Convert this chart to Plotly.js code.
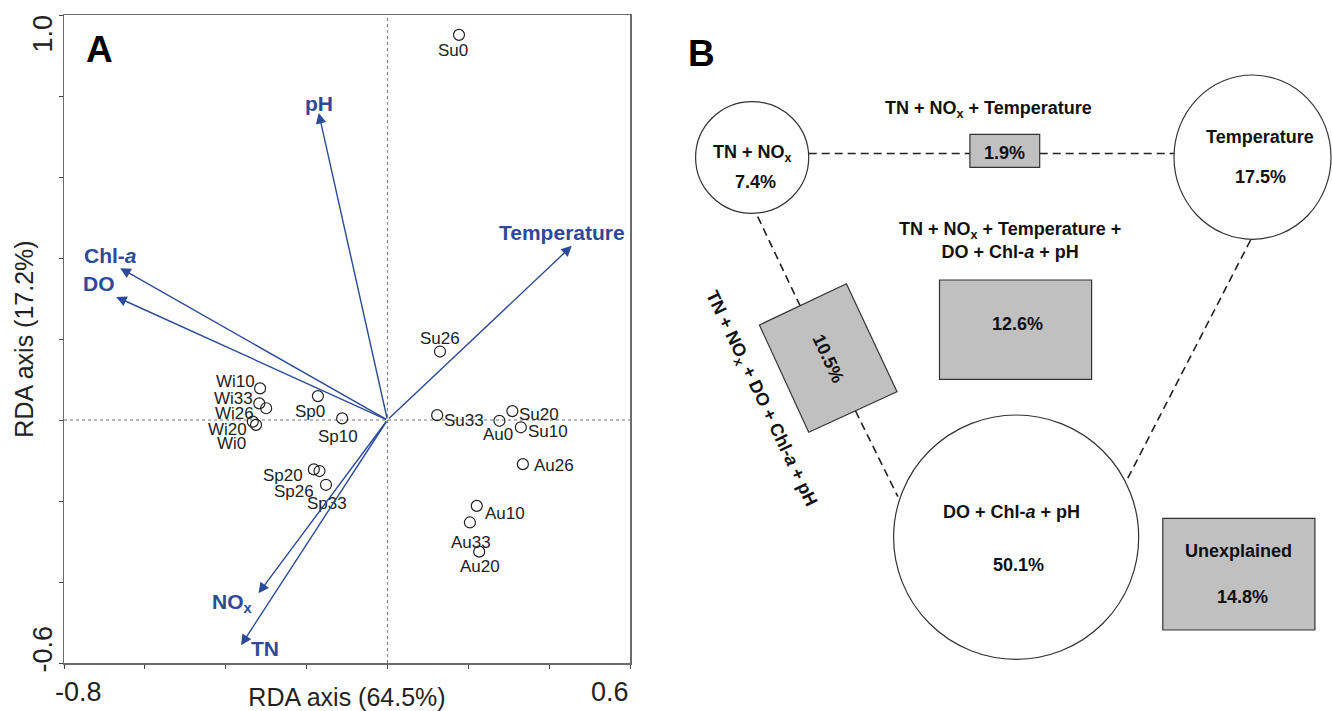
<!DOCTYPE html>
<html>
<head>
<meta charset="utf-8">
<script src="https://cdn.plot.ly/plotly-3.0.1.min.js"></script>
<style>html,body{margin:0;padding:0;background:#fff;}#chart{width:1332px;height:711px;}</style>
</head>
<body>
<div id="chart"></div>
<script>
// ---------- Panel A data (RDA biplot) ----------
const sampleNames = ['Su0','Su26','Wi10','Wi33','Wi26','Wi20','Wi0','Sp0','Sp10','Sp20','Sp26','Sp33','Su33','Au0','Su20','Su10','Au26','Au10','Au33','Au20'];
const sampleAxis1 = [0.177, 0.130, -0.315, -0.317, -0.300, -0.333, -0.325, -0.172, -0.112, -0.182, -0.168, -0.152, 0.123, 0.277, 0.309, 0.330, 0.335, 0.221, 0.204, 0.227];
const sampleAxis2 = [0.951, 0.169, 0.078, 0.041, 0.029, -0.004, -0.012, 0.059, 0.004, -0.122, -0.126, -0.160, 0.012, -0.002, 0.022, -0.018, -0.109, -0.212, -0.253, -0.325];

const envNames = ['pH', 'Temperature', 'Chl-<i>a</i>', 'DO', 'NO<sub>x</sub>', 'TN'];
const envAxis1 = [-0.170, 0.456, -0.661, -0.671, -0.319, -0.362];
const envAxis2 = [0.758, 0.430, 0.375, 0.304, -0.428, -0.556];

const xTickLabels = ['-0.8', '0.6'];
const yTickLabels = ['1.0', '-0.6'];
const xTitle = 'RDA axis (64.5%)';
const yTitle = 'RDA axis (17.2%)';

// ---------- Panel B data (variation partitioning) ----------
const partNames = ['TN + NO<sub>x</sub>', 'Temperature', 'DO + Chl-<i>a</i> + pH',
  'TN + NO<sub>x</sub> + Temperature', 'TN + NO<sub>x</sub> + DO + Chl-<i>a</i> + pH',
  'TN + NO<sub>x</sub> + Temperature +<br>DO + Chl-<i>a</i> + pH', 'Unexplained'];
const partValues = [7.4, 17.5, 50.1, 1.9, 10.5, 12.6, 14.8];

// ---------- styling / placement (not data) ----------
const FONT = 'Arial, "Liberation Sans", Helvetica, sans-serif';
const BLUE = '#2B4A9A';
// pixel offsets of sample labels from their points
const sampleLabelDx = [-5.5, 0, -24.4, -25.3, -32, -25.4, -24.3, -7.7, -4, -30.7, -26, 0.7, 26.9, -1.3, 26.5, 27.1, 31.5, 28, 0.7, 0.7];
const sampleLabelDy = [15.7, -13.4, -6.6, -5, 5, 7.6, 18.3, 15.7, 17.7, 5.7, 20.7, 18.3, 5, 13.3, 3.3, 4.4, 1.7, 8, 20, 15];
// pixel offsets of vector labels from arrow tips
const envLabelDx = [0, -10, -10, -17, -26, 23.5];
const envLabelDy = [-10, -13, -13, -13, 10, 3];

// Panel B layout geometry in panel pixel space (x2: 630..1332, y2: 15..663)
const circleBoxes = [[695.6, 101.7, 808.7, 213.3], [1174, 75, 1331, 239.3], [893.6, 415, 1138.7, 659.3]];
const rectBoxes = {3: [969.9, 134.3, 1039.7, 167.3], 5: [939.5, 280, 1091.6, 379.3], 6: [1162.8, 518.3, 1314.9, 630]};
const tiltedBox = [[759.4, 325], [846.4, 283.7], [897, 391.7], [808.7, 432.3]];
const dashLines = [[808.7, 153.5, 969.9, 153.5], [1039.7, 153.5, 1174, 153.5], [757.7, 216.7, 800, 305.5], [855.5, 411, 897.9, 496.7], [1250.6, 240, 1126, 481.7]];
const nameAnchors = [[752, 153.3], [1260, 136.7], [1011.4, 511.7], [988.7, 109.3], [760.5, 398.3], [1009.5, 240.8], [1238.6, 551]];
const valueAnchors = [[755, 181.7], [1260, 176.7], [1018, 565], [1004, 152.7], [828, 358], [1017.9, 324.3], [1242, 596.7]];
const nameAngles = [0, 0, 0, 0, 64.6, 0, 0];
const valueAngles = [0, 0, 0, 0, 65, 0, 0];

const traces = [
  {
    type: 'scatter', mode: 'markers', x: sampleAxis1, y: sampleAxis2, text: sampleNames,
    marker: {symbol: 'circle-open', size: 11, color: '#222', line: {width: 1.2, color: '#222'}},
    hoverinfo: 'text', cliponaxis: false
  },
  {type: 'scatter', x: [], y: [], xaxis: 'x2', yaxis: 'y2', hoverinfo: 'skip'}
];

const annotations = [];
const shapes = [];

// zero lines
shapes.push({type: 'line', xref: 'x', yref: 'y domain', x0: 0, x1: 0, y0: 0, y1: 1, line: {color: '#777', width: 1, dash: 'dot'}, layer: 'below'});
shapes.push({type: 'line', xref: 'x domain', yref: 'y', x0: 0, x1: 1, y0: 0, y1: 0, line: {color: '#777', width: 1, dash: 'dot'}, layer: 'below'});

// sample labels
sampleNames.forEach((n, i) => {
  annotations.push({x: sampleAxis1[i], y: sampleAxis2[i], xref: 'x', yref: 'y', text: n, showarrow: false,
    xshift: sampleLabelDx[i], yshift: -sampleLabelDy[i], xanchor: 'center', yanchor: 'middle',
    font: {family: FONT, size: 17, color: '#222'}});
});

// environmental vectors
envNames.forEach((n, i) => {
  annotations.push({x: envAxis1[i], y: envAxis2[i], xref: 'x', yref: 'y', ax: 0, ay: 0, axref: 'x', ayref: 'y',
    text: '', showarrow: true, arrowhead: 2, arrowsize: 1.5, arrowwidth: 1.4, arrowcolor: BLUE, standoff: 0, startstandoff: 0});
  annotations.push({x: envAxis1[i], y: envAxis2[i], xref: 'x', yref: 'y', text: '<b>' + n + '</b>', showarrow: false,
    xshift: envLabelDx[i], yshift: -envLabelDy[i], xanchor: 'center', yanchor: 'middle',
    font: {family: FONT, size: 21, color: BLUE}});
});

// tick labels
const tickFont = {family: FONT, size: 27, color: '#222'};
annotations.push({x: -0.8, y: 0, xref: 'x', yref: 'paper', text: xTickLabels[0], showarrow: false, xshift: 14, yshift: -29, xanchor: 'center', yanchor: 'middle', font: tickFont});
annotations.push({x: 0.6, y: 0, xref: 'x', yref: 'paper', text: xTickLabels[1], showarrow: false, xshift: -20, yshift: -29, xanchor: 'center', yanchor: 'middle', font: tickFont});
annotations.push({x: 0, y: 1.0, xref: 'paper', yref: 'y', text: yTickLabels[0], showarrow: false, xshift: -21.5, yshift: -19, textangle: -90, xanchor: 'center', yanchor: 'middle', font: tickFont});
annotations.push({x: 0, y: -0.6, xref: 'paper', yref: 'y', text: yTickLabels[1], showarrow: false, xshift: -21.5, yshift: 14, textangle: -90, xanchor: 'center', yanchor: 'middle', font: tickFont});

// panel letters
annotations.push({x: 0.0636, y: 0.946, xref: 'x domain', yref: 'y domain', text: '<b>A</b>', showarrow: false, xanchor: 'center', yanchor: 'middle', font: {family: FONT, size: 37, color: '#000'}});
annotations.push({x: 701.7, y: 53, xref: 'x2', yref: 'y2', text: '<b>B</b>', showarrow: false, xanchor: 'center', yanchor: 'middle', font: {family: FONT, size: 37, color: '#000'}});

// ---------- Panel B ----------
const edge = {color: '#333', width: 1.2};
const dashStyle = {color: '#222', width: 1.6, dash: '8px,5px'};
dashLines.forEach(l => shapes.push({type: 'line', xref: 'x2', yref: 'y2', x0: l[0], y0: l[1], x1: l[2], y1: l[3], line: dashStyle, layer: 'below'}));
circleBoxes.forEach(c => shapes.push({type: 'circle', xref: 'x2', yref: 'y2', x0: c[0], y0: c[1], x1: c[2], y1: c[3], line: edge, fillcolor: '#fff'}));
Object.keys(rectBoxes).forEach(k => { const r = rectBoxes[k];
  shapes.push({type: 'rect', xref: 'x2', yref: 'y2', x0: r[0], y0: r[1], x1: r[2], y1: r[3], line: edge, fillcolor: '#c0c0c0'}); });
shapes.push({type: 'path', xref: 'x2', yref: 'y2', path: 'M' + tiltedBox.map(p => p[0] + ',' + p[1]).join(' L') + ' Z', line: edge, fillcolor: '#c0c0c0'});

const bFont = {family: FONT, size: 18, color: '#111'};
partNames.forEach((n, i) => {
  annotations.push({x: nameAnchors[i][0], y: nameAnchors[i][1], xref: 'x2', yref: 'y2', text: '<b>' + n + '</b>', showarrow: false,
    textangle: nameAngles[i], xanchor: 'center', yanchor: 'middle', font: bFont});
  annotations.push({x: valueAnchors[i][0], y: valueAnchors[i][1], xref: 'x2', yref: 'y2', text: '<b>' + partValues[i].toFixed(1) + '%</b>', showarrow: false,
    textangle: valueAngles[i], xanchor: 'center', yanchor: 'middle', font: bFont});
});

const layout = {
  width: 1332, height: 711,
  margin: {l: 64, r: 0, t: 15, b: 48, pad: 0},
  paper_bgcolor: '#fff', plot_bgcolor: '#fff',
  showlegend: false,
  font: {family: FONT, color: '#222'},
  xaxis: {
    domain: [0, 566 / 1268], range: [-0.8, 0.6], autorange: false,
    tickmode: 'array', tickvals: [-0.8, -0.6, -0.4, -0.2, 0, 0.2, 0.4, 0.6], showticklabels: false,
    ticks: 'outside', ticklen: 4, tickcolor: '#444', tickwidth: 1,
    showline: true, mirror: true, linecolor: '#6b6b6b', linewidth: 1.5,
    showgrid: false, zeroline: false,
    title: {text: xTitle, font: {family: FONT, size: 25, color: '#222'}, standoff: 21}
  },
  yaxis: {
    domain: [0, 1], range: [-0.6, 1.0], autorange: false,
    tickmode: 'array', tickvals: [-0.6, -0.4, -0.2, 0, 0.2, 0.4, 0.6, 0.8, 1.0], showticklabels: false,
    ticks: 'outside', ticklen: 4, tickcolor: '#444', tickwidth: 1,
    showline: true, mirror: true, linecolor: '#6b6b6b', linewidth: 1.5,
    showgrid: false, zeroline: false,
    title: {text: yTitle, font: {family: FONT, size: 25, color: '#222'}, standoff: 18}
  },
  xaxis2: {domain: [566 / 1268, 1], range: [630, 1332], autorange: false, anchor: 'y2', visible: false, fixedrange: true},
  yaxis2: {domain: [0, 1], range: [663, 15], autorange: false, anchor: 'x2', visible: false, fixedrange: true},
  shapes: shapes,
  annotations: annotations
};

Plotly.newPlot('chart', traces, layout, {displayModeBar: false, staticPlot: true});
</script>
</body>
</html>
